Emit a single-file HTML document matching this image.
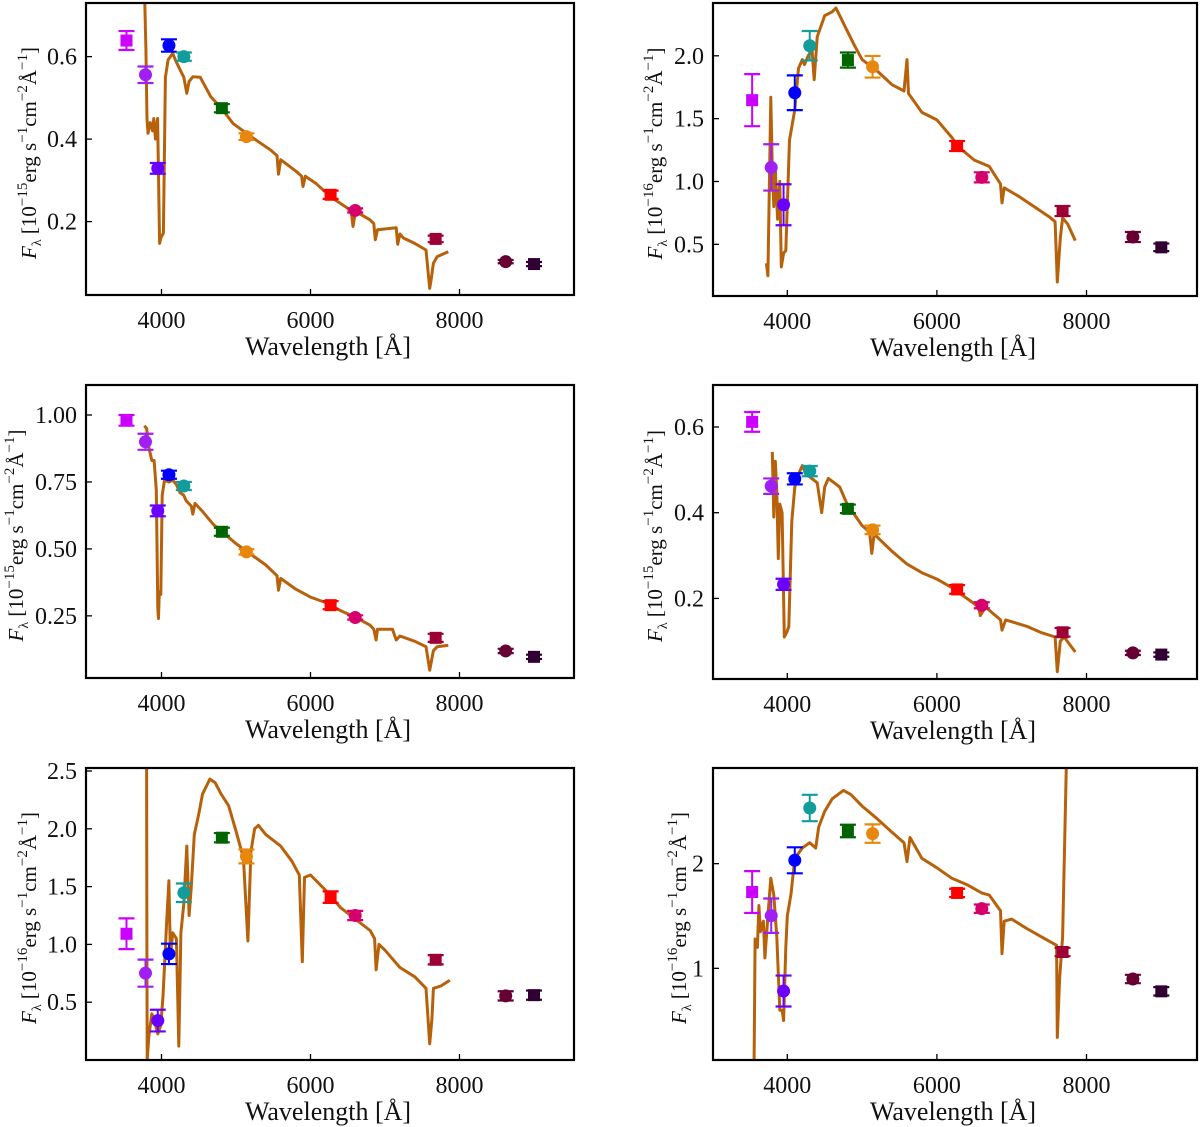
<!DOCTYPE html>
<html><head><meta charset="utf-8"><style>
html,body{margin:0;padding:0;background:#fff}
svg{display:block}
text{font-family:"Liberation Serif","DejaVu Serif",serif;fill:#111}
</style></head><body>
<svg id="fig" width="1200" height="1127" viewBox="0 0 1200 1127" xmlns="http://www.w3.org/2000/svg"></svg>
<script>
// Shared photometry wavelengths / markers
const photWave = [3530, 3785, 3950, 4100, 4300, 4810, 5140, 6270, 6600, 7680, 8620, 9000];
const photColor = ['#cc00ff','#9f1ff5','#6a00ff','#0000ff','#139c9c','#006400','#e8870e','#ff0000','#d6006c','#9c0036','#660033','#300033'];
const photShape = ['s','c','c','c','c','s','c','s','c','s','c','s'];
const xTicks = [4000, 6000, 8000];

// Panel 1
const p1Wave = [3760,3790,3805,3819,3850,3880,3897,3920,3948,3974,3990,4026,4052,4088,4150,4190,4250,4300,4340,4370,4420,4520,4660,4820,4960,5170,5460,5550,5570,5600,5820,5880,5900,5930,6070,6270,6500,6550,6570,6600,6650,6800,6850,6870,6900,7150,7170,7200,7250,7400,7550,7600,7620,7650,7700,7850];
const p1Flux = [0.85,0.62,0.45,0.414,0.44,0.42,0.45,0.40,0.45,0.147,0.16,0.172,0.55,0.592,0.608,0.59,0.568,0.55,0.511,0.54,0.551,0.55,0.503,0.471,0.438,0.41,0.374,0.36,0.315,0.35,0.32,0.31,0.285,0.31,0.293,0.26,0.232,0.22,0.188,0.22,0.22,0.204,0.195,0.156,0.18,0.185,0.145,0.17,0.16,0.147,0.131,0.038,0.06,0.099,0.115,0.127];
const p1Phot = [0.639,0.556,0.329,0.627,0.60,0.475,0.406,0.265,0.227,0.158,0.103,0.097];
const p1Err = [0.023,0.02,0.013,0.015,0.01,0.01,0.008,0.01,0.005,0.008,0.004,0.005];
const p1YTicks = [0.2,0.4,0.6];
const p1YLabels = ['0.2','0.4','0.6'];

// Panel 2
const p2Wave = [3720,3740,3780,3800,3820,3840,3870,3900,3920,3950,3980,4030,4100,4150,4200,4230,4280,4330,4360,4400,4500,4600,4650,4700,4800,4900,5000,5200,5400,5560,5600,5620,5800,6000,6200,6300,6500,6700,6850,6870,6900,7100,7300,7500,7580,7610,7650,7680,7750,7850];
const p2Flux = [0.35,0.25,1.67,1.1,0.8,1.1,0.7,1.0,0.32,0.43,0.45,1.33,1.57,1.9,1.97,1.93,2.0,2.05,1.81,2.15,2.32,2.35,2.38,2.32,2.2,2.08,1.97,1.88,1.77,1.72,1.97,1.7,1.55,1.49,1.35,1.27,1.17,1.12,0.98,0.83,0.95,0.88,0.8,0.72,0.68,0.2,0.55,0.71,0.66,0.53];
const p2Phot = [1.647,1.112,0.815,1.706,2.08,1.966,1.913,1.282,1.033,0.765,0.558,0.476];
const p2Err = [0.207,0.184,0.163,0.138,0.117,0.06,0.086,0.04,0.04,0.04,0.04,0.03];
const p2YTicks = [0.5,1.0,1.5,2.0];
const p2YLabels = ['0.5','1.0','1.5','2.0'];

// Panel 3
const p3Wave = [3770,3800,3830,3870,3900,3930,3950,3960,3970,3990,4010,4040,4100,4150,4200,4250,4300,4330,4400,4420,4450,4550,4700,4810,5000,5200,5400,5550,5570,5600,5800,6000,6200,6400,6600,6800,6850,6880,6900,7100,7150,7200,7400,7550,7600,7650,7700,7850];
const p3Flux = [0.96,0.95,0.88,0.83,0.83,0.72,0.28,0.24,0.34,0.33,0.7,0.757,0.75,0.757,0.74,0.71,0.70,0.68,0.66,0.63,0.67,0.64,0.59,0.565,0.52,0.48,0.44,0.40,0.346,0.39,0.35,0.32,0.30,0.27,0.245,0.215,0.20,0.16,0.2,0.2,0.16,0.175,0.155,0.135,0.047,0.12,0.135,0.14];
const p3Phot = [0.98,0.90,0.642,0.777,0.735,0.564,0.489,0.29,0.244,0.168,0.119,0.097];
const p3Err = [0.02,0.03,0.02,0.015,0.015,0.015,0.01,0.015,0.008,0.015,0.008,0.008];
const p3YTicks = [0.25,0.5,0.75,1.0];
const p3YLabels = ['0.25','0.50','0.75','1.00'];

// Panel 4
const p4Wave = [3800,3820,3840,3860,3880,3900,3930,3960,3990,4020,4060,4100,4150,4200,4250,4400,4460,4500,4550,4700,4800,5000,5100,5130,5160,5400,5600,5800,6000,6200,6400,6560,6580,6650,6850,6870,6920,7200,7400,7580,7610,7650,7700,7850];
const p4Flux = [0.542,0.39,0.52,0.45,0.293,0.42,0.40,0.11,0.12,0.134,0.38,0.46,0.49,0.51,0.49,0.47,0.40,0.46,0.48,0.46,0.42,0.37,0.355,0.305,0.35,0.31,0.28,0.26,0.245,0.225,0.20,0.18,0.16,0.18,0.15,0.126,0.15,0.135,0.12,0.11,0.029,0.10,0.11,0.075];
const p4Phot = [0.612,0.462,0.233,0.479,0.497,0.409,0.36,0.221,0.184,0.121,0.073,0.069];
const p4Err = [0.023,0.018,0.013,0.013,0.012,0.01,0.01,0.01,0.007,0.01,0.005,0.005];
const p4YTicks = [0.2,0.4,0.6];
const p4YLabels = ['0.2','0.4','0.6'];

// Panel 5
const p5Wave = [3800,3804,3808,3830,3870,3900,3950,3990,4020,4070,4100,4120,4150,4200,4232,4260,4300,4340,4370,4400,4440,4500,4550,4650,4720,4800,4900,5000,5100,5160,5200,5250,5300,5400,5600,5750,5850,5890,5920,6000,6200,6400,6600,6800,6860,6880,6920,7000,7200,7400,7550,7600,7630,7650,7750,7870];
const p5Flux = [2.6,1.0,0.0,0.2,0.4,0.35,0.226,0.3,0.55,1.2,1.55,0.9,1.1,1.05,0.12,1.1,1.35,1.85,1.25,1.5,1.95,2.13,2.3,2.43,2.4,2.3,2.2,1.98,1.75,1.03,1.8,2.0,2.03,1.95,1.85,1.72,1.6,0.85,1.58,1.6,1.47,1.32,1.22,1.12,1.05,0.78,1.0,0.95,0.8,0.72,0.62,0.14,0.35,0.62,0.64,0.69];
const p5Phot = [1.092,0.751,0.341,0.918,1.447,1.923,1.761,1.409,1.25,0.867,0.555,0.561];
const p5Err = [0.133,0.117,0.094,0.088,0.08,0.04,0.06,0.05,0.04,0.04,0.04,0.04];
const p5YTicks = [0.5,1.0,1.5,2.0,2.5];
const p5YLabels = ['0.5','1.0','1.5','2.0','2.5'];

// Panel 6
const p6Wave = [3555,3570,3600,3620,3640,3680,3700,3740,3780,3820,3860,3900,3930,3950,3980,4000,4050,4100,4200,4300,4380,4420,4500,4600,4750,4850,5000,5200,5400,5560,5600,5640,5800,6000,6200,6400,6600,6700,6850,6870,6900,7000,7200,7400,7600,7610,7640,7680,7735];
const p6Flux = [0.0,1.28,1.2,1.6,1.35,1.45,1.1,1.5,1.86,1.7,1.3,0.6,0.6,0.5,1.2,1.5,1.71,2.05,2.15,2.2,2.15,2.35,2.5,2.62,2.70,2.66,2.55,2.43,2.3,2.2,2.02,2.25,2.05,1.96,1.86,1.8,1.72,1.7,1.55,1.14,1.45,1.47,1.38,1.3,1.22,0.34,0.9,1.3,3.1];
const p6Phot = [1.729,1.503,0.783,2.032,2.532,2.312,2.287,1.72,1.57,1.156,0.898,0.78];
const p6Err = [0.2,0.164,0.148,0.124,0.126,0.06,0.088,0.04,0.04,0.04,0.04,0.04];
const p6YTicks = [1,2];
const p6YLabels = ['1','2'];

const NS = 'http://www.w3.org/2000/svg';
const fig = document.getElementById('fig');
function mk(tag, attrs, parent){
  const e = document.createElementNS(NS, tag);
  for (const k in attrs) e.setAttribute(k, attrs[k]);
  (parent||fig).appendChild(e);
  return e;
}

const panels = [
  {id:1, L:86, R:574, T:3, B:295, ymin:0.022, ymax:0.730, exp:'−15', wave:p1Wave, flux:p1Flux, phot:p1Phot, err:p1Err, yt:p1YTicks, yl:p1YLabels, ylx:30},
  {id:2, L:713, R:1197, T:3, B:296, ymin:0.089, ymax:2.42, exp:'−16', wave:p2Wave, flux:p2Flux, phot:p2Phot, err:p2Err, yt:p2YTicks, yl:p2YLabels, ylx:656},
  {id:3, L:86, R:574, T:385, B:678, ymin:0.018, ymax:1.112, exp:'−15', wave:p3Wave, flux:p3Flux, phot:p3Phot, err:p3Err, yt:p3YTicks, yl:p3YLabels, ylx:17},
  {id:4, L:713, R:1197, T:385, B:679, ymin:0.012, ymax:0.698, exp:'−15', wave:p4Wave, flux:p4Flux, phot:p4Phot, err:p4Err, yt:p4YTicks, yl:p4YLabels, ylx:656},
  {id:5, L:86, R:574, T:768, B:1060, ymin:0.0, ymax:2.526, exp:'−16', wave:p5Wave, flux:p5Flux, phot:p5Phot, err:p5Err, yt:p5YTicks, yl:p5YLabels, ylx:30},
  {id:6, L:713, R:1197, T:768, B:1060, ymin:0.124, ymax:2.914, exp:'−16', wave:p6Wave, flux:p6Flux, phot:p6Phot, err:p6Err, yt:p6YTicks, yl:p6YLabels, ylx:680}
];

panels.forEach(p => {
  const x4 = p.L < 400 ? 161.5 : 787.3;
  const pxPerK = p.L < 400 ? 74.5 : 74.8;
  const xs = w => x4 + (w - 4000) / 1000 * pxPerK;
  const ys = v => p.B - (v - p.ymin) / (p.ymax - p.ymin) * (p.B - p.T);

  const g = mk('g', {});
  
  

  const cp = mk('clipPath', {id:'clip' + p.id}, g);
  mk('rect', {x:p.L, y:p.T, width:p.R - p.L, height:p.B - p.T}, cp);

  // spectrum
  let d = '';
  p.wave.forEach((w, i) => { d += (i ? 'L' : 'M') + xs(w).toFixed(1) + ' ' + ys(p.flux[i]).toFixed(1); });
  const sp = mk('path', {d:d, fill:'none', stroke:'#b7620b', 'stroke-width':3, 'stroke-linejoin':'round', 'clip-path':'url(#clip' + p.id + ')'}, g);
  
  

  // photometry
  photWave.forEach((w, i) => {
    const cx = xs(w), cy = ys(p.phot[i]);
    const y1 = ys(p.phot[i] + p.err[i]), y2 = ys(p.phot[i] - p.err[i]);
    const c = photColor[i];
    const pg = mk('g', {'clip-path':'url(#clip' + p.id + ')'}, g);
    
    
    mk('line', {x1:cx, x2:cx, y1:y1, y2:y2, stroke:c, 'stroke-width':2}, pg);
    mk('line', {x1:cx - 8, x2:cx + 8, y1:y1, y2:y1, stroke:c, 'stroke-width':2.2}, pg);
    mk('line', {x1:cx - 8, x2:cx + 8, y1:y2, y2:y2, stroke:c, 'stroke-width':2.2}, pg);
    if (photShape[i] === 's') mk('rect', {x:cx - 6, y:cy - 6, width:12, height:12, fill:c}, pg);
    else mk('circle', {cx:cx, cy:cy, r:6.5, fill:c}, pg);
  });

  // ticks
  xTicks.forEach(t => {
    const x = xs(t);
    mk('line', {x1:x, x2:x, y1:p.B, y2:p.B - 6, stroke:'#000', 'stroke-width':1.3}, g);
    const tx = mk('text', {x:x, y:p.B + 33, 'text-anchor':'middle', 'font-size':24}, g);
    tx.textContent = t;
    
    
  });
  p.yt.forEach((t, i) => {
    const y = ys(t);
    mk('line', {x1:p.L, x2:p.L + 6, y1:y, y2:y, stroke:'#000', 'stroke-width':1.3}, g);
    const tx = mk('text', {x:p.L - 9, y:y + 8, 'text-anchor':'end', 'font-size':24}, g);
    tx.textContent = p.yl[i];
    
    
  });

  // frame
  const fr = mk('rect', {x:p.L, y:p.T, width:p.R - p.L, height:p.B - p.T, fill:'none', stroke:'#000', 'stroke-width':2.2}, g);
  
  

  // x label
  const xl = mk('text', {x:(p.L + p.R) / 2 - 2, y:p.B + 60, 'text-anchor':'middle', 'font-size':26}, g);
  xl.textContent = 'Wavelength [Å]';
  
  

  // y label
  const cy = (p.T + p.B) / 2 + 4;
  const yl = mk('text', {x:0, y:0, 'text-anchor':'middle', 'font-size':21, transform:'translate(' + (p.ylx + 6) + ',' + cy + ') rotate(-90)'}, g);
  
  
  yl.innerHTML = '<tspan font-style="italic">F</tspan><tspan font-size="14" dy="5">λ</tspan><tspan dy="-5"> [10</tspan><tspan font-size="15" dy="-9">' + p.exp + '</tspan><tspan dy="9">erg s</tspan><tspan font-size="15" dy="-9">−1</tspan><tspan dy="9">cm</tspan><tspan font-size="15" dy="-9">−2</tspan><tspan dy="9">Å</tspan><tspan font-size="15" dy="-9">−1</tspan><tspan dy="9">]</tspan>';
});
</script>
</body></html>
